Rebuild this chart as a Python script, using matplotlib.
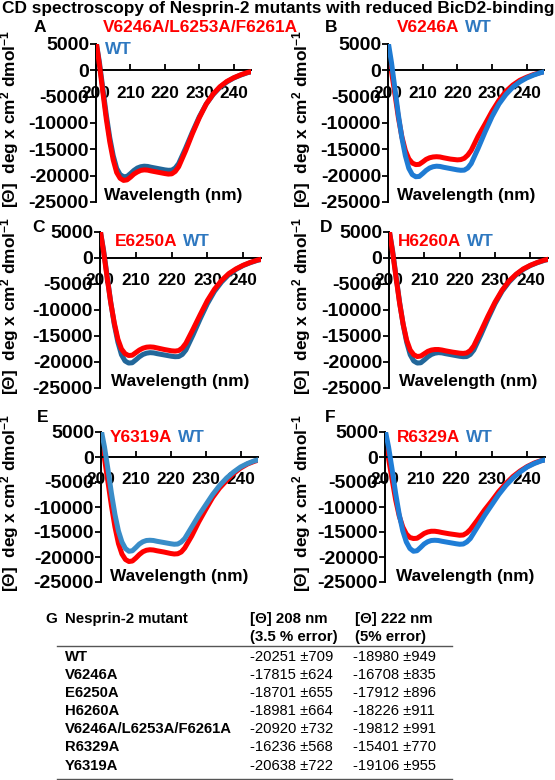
import matplotlib
matplotlib.use('Agg')
import matplotlib.pyplot as plt
from matplotlib.lines import Line2D

plt.rcParams['font.family'] = ['Liberation Sans', 'DejaVu Sans']
plt.rcParams['font.weight'] = 'bold'
plt.rcParams['mathtext.fontset'] = 'custom'
plt.rcParams['mathtext.rm'] = 'Liberation Sans:bold'
plt.rcParams['mathtext.bf'] = 'Liberation Sans:bold'
plt.rcParams['mathtext.it'] = 'Liberation Sans:bold:italic'

# ---------------- data ----------------
wavelength = [200, 201, 202, 203, 204, 205, 206, 207, 208, 209, 210, 211, 212, 213,
              214, 215, 216, 218, 220, 221, 222, 223, 224, 226, 228, 230, 232, 234,
              236, 238, 240, 242, 244, 245]

wt_1 = [5600, 1500, -3500, -8500, -12800, -16200, -18600, -19800, -20200, -20150, -19600,
        -19000, -18550, -18300, -18200, -18250, -18400, -18650, -18900, -18980, -18950,
        -18550, -17700, -14800, -11700, -8800, -6400, -4600, -3200, -2200, -1450, -900,
        -450, -300]

wt_2 = [5600, 2000, -2500, -7300, -11500, -14800, -17000, -18300, -18850, -18750, -18100,
        -17400, -16950, -16700, -16650, -16700, -16850, -17100, -17350, -17450, -17400,
        -17000, -16300, -14000, -11700, -9600, -7500, -5700, -4200, -3000, -2000, -1300,
        -750, -600]

triple = [5600, 1000, -4200, -9300, -13600, -17000, -19400, -20500, -20900, -20800, -20300,
          -19700, -19300, -19000, -18900, -18950, -19100, -19350, -19600, -19700, -19650,
          -19200, -18300, -15300, -12000, -9000, -6400, -4500, -3100, -2100, -1400, -850,
          -400, -250]

v6246a = [3000, -200, -4500, -9000, -12600, -15200, -16800, -17600, -17900, -17850, -17400,
          -16900, -16600, -16450, -16400, -16450, -16600, -16850, -17000, -16950, -16700,
          -16100, -15200, -12500, -10200, -7800, -5700, -4000, -2800, -1900, -1300, -800,
          -400, -250]

e6250a = [5600, 1200, -3800, -8600, -12500, -15600, -17500, -18400, -18750, -18700, -18200,
          -17700, -17350, -17150, -17100, -17150, -17300, -17600, -17850, -17900, -17800,
          -17300, -16400, -13700, -10900, -8200, -6000, -4300, -3000, -2100, -1400, -850,
          -400, -250]

h6260a = [5600, 1200, -3800, -8700, -12700, -15800, -17700, -18600, -18950, -18850, -18400,
          -17950, -17700, -17600, -17600, -17700, -17850, -18100, -18300, -18350, -18250,
          -17800, -16900, -14100, -11200, -8500, -6200, -4400, -3100, -2100, -1400, -850,
          -400, -250]

y6319a = [3300, -300, -5000, -9800, -14000, -17300, -19400, -20500, -20900, -20800, -20200,
          -19500, -18950, -18650, -18550, -18600, -18750, -19000, -19300, -19400, -19350,
          -19000, -18200, -15800, -13000, -10500, -8100, -6200, -4700, -3300, -2200, -1400,
          -850, -650]

r6329a = [3300, -300, -4500, -8600, -11800, -14000, -15400, -16100, -16300, -16250, -15800,
          -15300, -15000, -14850, -14850, -14950, -15100, -15350, -15550, -15650, -15600,
          -15200, -14500, -12600, -10600, -8800, -6900, -5300, -3900, -2800, -1900, -1200,
          -700, -550]

x_ticks = [200, 210, 220, 230, 240]
y_ticks = [-25000, -20000, -15000, -10000, -5000, 0, 5000]

table_mutants = ['WT', 'V6246A', 'E6250A', 'H6260A', 'V6246A/L6253A/F6261A', 'R6329A', 'Y6319A']
theta_208 = [-20251, -17815, -18701, -18981, -20920, -16236, -20638]
err_208 = [709, 624, 655, 664, 732, 568, 722]
theta_222 = [-18980, -16708, -17912, -18226, -19812, -15401, -19106]
err_222 = [949, 835, 896, 911, 991, 770, 955]

# ---------------- layout / style ----------------
W, H = 555, 780
RED = '#FF0000'
WT_TEXT = '#2E78C0'

panels = [
    # letter, mutant label, mutant data, wt data, wt colour, wt on top, axes px (l, t, r, b), letter px, label px
    ('A', 'V6246A/L6253A/F6261A', triple, wt_1, '#22679A', False, (96, 44, 251, 202), (34, 27), (103, 28)),
    ('B', 'V6246A', v6246a, wt_1, '#1F7BD3', True, (388, 44, 544, 202), (325, 27), (397, 28)),
    ('C', 'E6250A', e6250a, wt_1, '#22679A', False, (100, 232, 261, 388), (32, 227), (115, 241)),
    ('D', 'H6260A', h6260a, wt_1, '#22679A', False, (389, 232, 548, 388), (320, 227), (398, 241)),
    ('E', 'Y6319A', y6319a, wt_2, '#3A8DC8', True, (101, 432, 258, 582), (37, 417), (110, 437)),
    ('F', 'R6329A', r6329a, wt_2, '#1F7DD6', True, (385, 432, 545, 582), (325, 417), (397, 437)),
]

fig = plt.figure(figsize=(W / 100, H / 100), dpi=100)


def fx(px):
    return px / W


def fy(py):
    return 1 - py / H


fig.text(fx(2), fy(9), 'CD spectroscopy of Nesprin-2 mutants with reduced BicD2-binding',
         fontsize=12.4, fontweight='bold', ha='left', va='center')

for i, (letter, mlabel, mdata, wdata, wcol, wt_top, (l, t, r, b), (lx, ly), (tx, ty)) in enumerate(panels):
    ax = fig.add_axes([fx(l), fy(b), (r - l) / W, (b - t) / H])
    ax.set_xlim(200, 245)
    ax.set_ylim(-25000, 5000)
    ax.patch.set_alpha(0)
    for s in ('top', 'right'):
        ax.spines[s].set_visible(False)
    ax.spines['bottom'].set_position(('data', 0))
    ax.spines['bottom'].set_linewidth(1.4)
    ax.spines['left'].set_linewidth(1.4)
    ax.set_xticks(x_ticks)
    ax.set_xticklabels([str(v) for v in x_ticks])
    ax.set_yticks(y_ticks)
    ax.set_yticklabels([str(v) for v in y_ticks])
    ax.tick_params(axis='x', direction='in', length=4, width=1.3, pad=11, labelsize=12.4)
    ax.tick_params(axis='y', direction='out', length=4, width=1.3, pad=1, labelsize=14)

    zw = 3 if wt_top else 2
    zm = 2 if wt_top else 3
    ax.plot(wavelength, wdata, color=wcol, lw=3.6, zorder=zw, solid_joinstyle='round')
    ax.plot(wavelength, mdata, color=RED, lw=3.6, zorder=zm, solid_joinstyle='round')

    ax.text(0.5, 0.04, 'Wavelength (nm)', transform=ax.transAxes, ha='center', va='center',
            fontsize=12.4, fontweight='bold')

    # y label
    ylx = 10 if i % 2 == 0 else 302
    fig.text(fx(ylx), fy((t + b) / 2 - 4), r'[Θ]  deg x cm$^{2}$ dmol$^{-1}$', rotation=90,
             ha='center', va='center', fontsize=12.4, fontweight='bold')

    fig.text(fx(lx), fy(ly), letter, fontsize=12.5, fontweight='bold', ha='left', va='center')

    rt = fig.text(fx(tx), fy(ty), mlabel, color=RED, fontsize=12.4, fontweight='bold',
                  ha='left', va='center')
    if letter == 'A':
        fig.text(fx(105), fy(50), 'WT', color=WT_TEXT, fontsize=12.4, fontweight='bold',
                 ha='left', va='center')
    else:
        fig.add_artist(plt.Annotation('WT', xy=(1, 0.5), xycoords=rt, xytext=(4, 0),
                                      textcoords='offset points', color=WT_TEXT,
                                      fontsize=12.4, fontweight='bold', ha='left',
                                      va='center'))

# ---------------- table ----------------
fig.text(fx(45), fy(619), 'G', fontsize=11, fontweight='bold', ha='left', va='center')
fig.text(fx(65), fy(619), 'Nesprin-2 mutant', fontsize=10.8, fontweight='bold', ha='left', va='center')
fig.text(fx(250), fy(619), '[Θ] 208 nm', fontsize=10.8, fontweight='bold', ha='left', va='center')
fig.text(fx(250), fy(637), '(3.5 % error)', fontsize=10.8, fontweight='bold', ha='left', va='center')
fig.text(fx(355), fy(619), '[Θ] 222 nm', fontsize=10.8, fontweight='bold', ha='left', va='center')
fig.text(fx(355), fy(637), '(5% error)', fontsize=10.8, fontweight='bold', ha='left', va='center')

fig.add_artist(Line2D([fx(57), fx(452)], [fy(646), fy(646)], transform=fig.transFigure,
                      color='#555555', lw=1.0))
fig.add_artist(Line2D([fx(57), fx(452)], [fy(778.5), fy(778.5)], transform=fig.transFigure,
                      color='#555555', lw=1.0))

for k, name in enumerate(table_mutants):
    yy = 656.7 + k * 18.15
    fig.text(fx(65), fy(yy), name, fontsize=10.7, fontweight='bold', ha='left', va='center')
    fig.text(fx(250), fy(yy), f'{theta_208[k]} \u00b1{err_208[k]}', fontsize=10.6,
             fontweight='normal', ha='left', va='center')
    fig.text(fx(353), fy(yy), f'{theta_222[k]} \u00b1{err_222[k]}', fontsize=10.6,
             fontweight='normal', ha='left', va='center')

fig.savefig('out.png', dpi=100)
